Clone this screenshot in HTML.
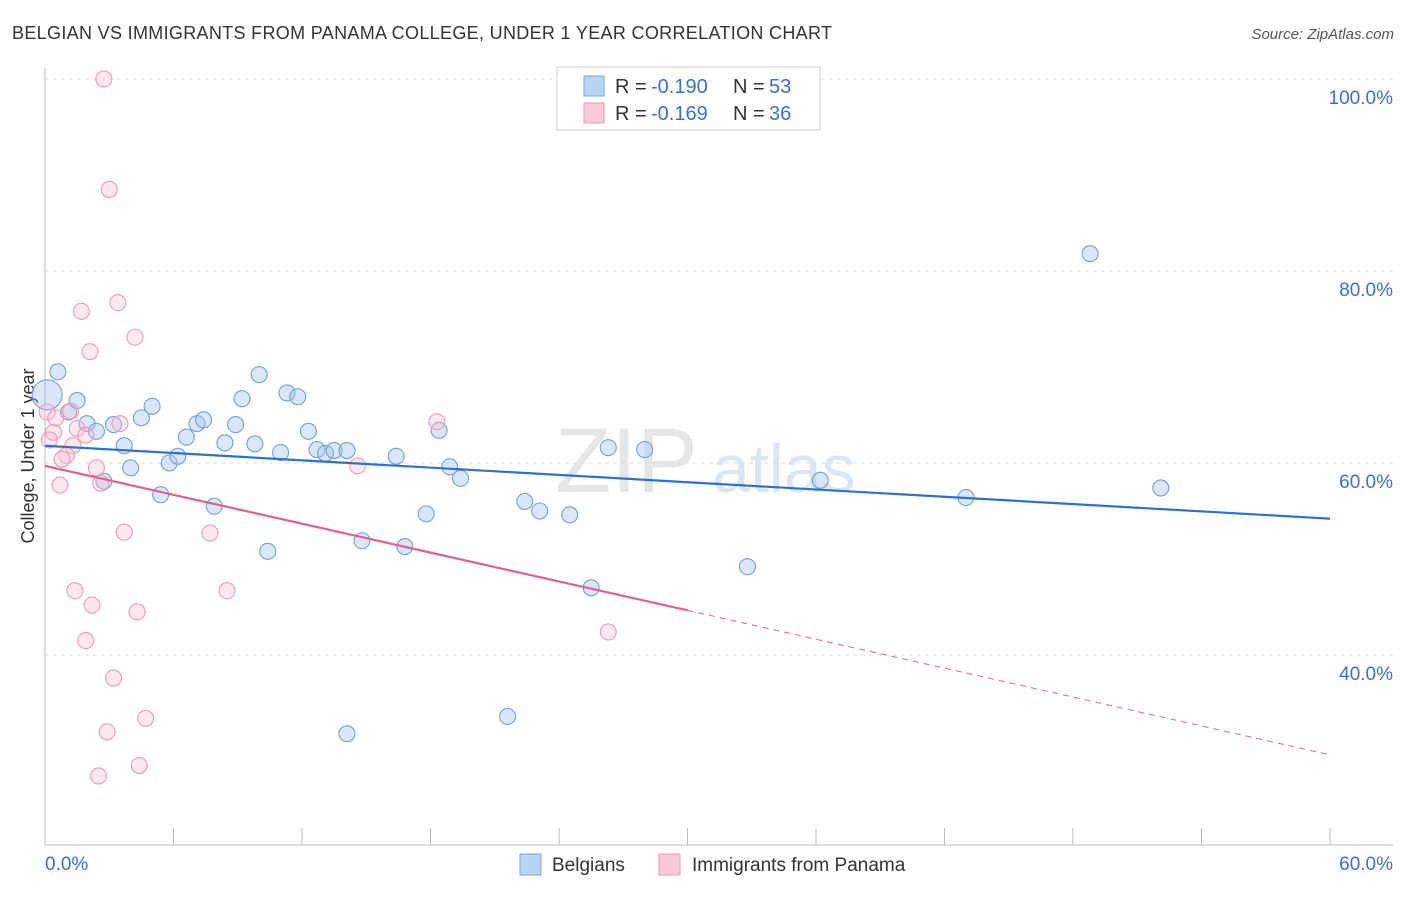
<!DOCTYPE html>
<html><head><meta charset="utf-8"><style>
body{margin:0;background:#fff;font-family:"Liberation Sans",sans-serif}
svg text{font-family:"Liberation Sans",sans-serif}
</style></head><body>
<svg id="chart" width="1406" height="892" viewBox="0 0 1406 892" xmlns="http://www.w3.org/2000/svg">
<text x="12" y="39" font-size="18" fill="#333" textLength="820" lengthAdjust="spacing">BELGIAN VS IMMIGRANTS FROM PANAMA COLLEGE, UNDER 1 YEAR CORRELATION CHART</text>
<text x="1394" y="39" font-size="15" fill="#555" text-anchor="end" font-style="italic">Source: ZipAtlas.com</text>
<text x="555" y="492" font-size="92" fill="#e6e6e6" font-family="Liberation Serif">ZIP</text>
<text x="712" y="492" font-size="68" fill="#dbe6f5">atlas</text>
<g id="grid"></g><g id="axes"></g>
<text transform="translate(34,456) rotate(-90)" font-size="18" fill="#333" text-anchor="middle">College, Under 1 year</text>
<g id="marks"></g>
<g>
<rect x="557" y="67" width="263" height="63" fill="#fff" stroke="#ccc"/>
<rect x="584" y="76" width="20" height="20" fill="#b9d3f5" stroke="#7aa6e0"/>
<text x="615" y="93" font-size="20" fill="#333">R = </text>
<text x="651" y="93" font-size="20" fill="#3b6fd4">-0.190</text>
<text x="733" y="93" font-size="20" fill="#333">N = </text>
<text x="769" y="93" font-size="20" fill="#3b6fd4">53</text>
<rect x="584" y="103" width="20" height="20" fill="#fbc9d8" stroke="#ee9ab4"/>
<text x="615" y="120" font-size="20" fill="#333">R = </text>
<text x="651" y="120" font-size="20" fill="#3b6fd4">-0.169</text>
<text x="733" y="120" font-size="20" fill="#333">N = </text>
<text x="769" y="120" font-size="20" fill="#3b6fd4">36</text>
</g>
<g>
<rect x="520" y="854" width="21" height="21" fill="#b9d3f5" stroke="#7aa6e0"/>
<text x="552" y="871" font-size="19" fill="#333">Belgians</text>
<rect x="659" y="854" width="21" height="21" fill="#fbc9d8" stroke="#ee9ab4"/>
<text x="692" y="871" font-size="19" fill="#333">Immigrants from Panama</text>
</g>
</svg>
<script>
const blueX=[0.1,0.6,1.1,1.5,1.96,2.4,2.75,3.2,3.7,4.0,4.5,5.0,5.4,5.8,6.2,6.6,7.1,7.4,7.9,8.4,8.9,9.2,9.8,10.0,10.4,11.0,11.3,11.8,12.3,12.7,13.1,13.5,14.1,14.1,14.8,16.4,16.8,17.8,18.4,18.9,19.4,21.6,22.4,23.1,24.5,25.5,26.3,28.0,32.8,36.2,43.0,48.8,52.1];
const blueY=[67.1,69.5,65.3,66.5,64.1,63.3,58.1,64.0,61.8,59.5,64.7,65.9,56.7,60.0,60.7,62.7,64.1,64.5,55.5,62.1,64.0,66.7,62.0,69.2,50.8,61.1,67.3,66.9,63.3,61.4,61.0,61.3,31.8,61.3,51.9,60.7,51.3,54.7,63.4,59.6,58.4,33.6,56.0,55.0,54.6,47.0,61.6,61.4,49.2,58.2,56.4,81.8,57.4];
const pinkX=[2.75,3.0,3.4,1.7,4.2,2.1,0.1,0.4,0.5,0.2,1.2,1.3,1.0,0.8,1.5,1.9,3.5,2.4,2.6,0.7,3.7,7.7,14.6,18.3,1.4,2.2,4.3,8.5,1.9,26.3,3.2,2.9,4.7,2.5,4.4];
const pinkY=[100,88.5,76.7,75.8,73.1,71.6,65.3,63.2,64.7,62.4,65.4,61.8,60.8,60.4,63.6,62.9,64.1,59.5,57.9,57.7,52.8,52.7,59.7,64.3,46.7,45.2,44.5,46.7,41.5,42.4,37.6,32.0,33.4,27.4,28.5];
const blueTrend=[61.8,54.2];
const pinkTrend=[59.7,29.6];
const yTicks=[100,80,60,40];
const xTickVals=[0,6,12,18,24,30,36,42,48,54,60];
const NS="http://www.w3.org/2000/svg";
const sx=v=>45+v*1285/60, sy=v=>79+(100-v)*9.6;
function mk(t,a,p){const e=document.createElementNS(NS,t);for(const k in a)e.setAttribute(k,a[k]);p.appendChild(e);return e;}
const grid=document.getElementById('grid'),axes=document.getElementById('axes'),marks=document.getElementById('marks');
yTicks.forEach(v=>{
 const l=mk('line',{x1:45,x2:1393,y1:sy(v),y2:sy(v),stroke:'#ddd','stroke-dasharray':'4,4'},grid);
 
 
 const t=mk('text',{x:1393,y:sy(v)+25,'font-size':19,fill:'#3b6fd4','text-anchor':'end'},axes);
 t.textContent=v.toFixed(1)+'%';
 
 
});
mk('line',{x1:45,x2:45,y1:68,y2:845,stroke:'#bbb'},axes);
mk('line',{x1:45,x2:1393,y1:845,y2:845,stroke:'#bbb'},axes);
xTickVals.forEach(v=>{
 const l=mk('line',{x1:sx(v),x2:sx(v),y1:828,y2:845,stroke:'#bbb'},axes);
 
 
});
const xl=mk('text',{x:45,y:870,'font-size':19,fill:'#3b6fd4'},axes);xl.textContent='0.0%';


const xr=mk('text',{x:1393,y:870,'font-size':19,fill:'#3b6fd4','text-anchor':'end'},axes);xr.textContent='60.0%';


blueX.forEach((x,i)=>{
 const c=mk('circle',{cx:sx(x),cy:sy(blueY[i]),r:i===0?15:8,fill:'rgba(160,196,240,0.4)',stroke:'#6f9fdc','stroke-width':1.1},marks);
 
 
});
pinkX.forEach((x,i)=>{
 const c=mk('circle',{cx:sx(x),cy:sy(pinkY[i]),r:8,fill:'rgba(250,190,210,0.35)',stroke:'#ee9ab4','stroke-width':1.1},marks);
 
 
});
const by=x=>blueTrend[0]+(blueTrend[1]-blueTrend[0])*x/60;
const py=x=>pinkTrend[0]+(pinkTrend[1]-pinkTrend[0])*x/60;
const bl=mk('line',{x1:sx(0),y1:sy(by(0)),x2:sx(60),y2:sy(by(60)),stroke:'#2f6fd0','stroke-width':2.2},marks);


const pl=mk('line',{x1:sx(0),y1:sy(py(0)),x2:sx(30),y2:sy(py(30)),stroke:'#e2628e','stroke-width':2.2},marks);


const pd=mk('line',{x1:sx(30),y1:sy(py(30)),x2:sx(60),y2:sy(py(60)),stroke:'#e2628e','stroke-width':1,'stroke-dasharray':'6,5'},marks);


</script>
</body></html>
